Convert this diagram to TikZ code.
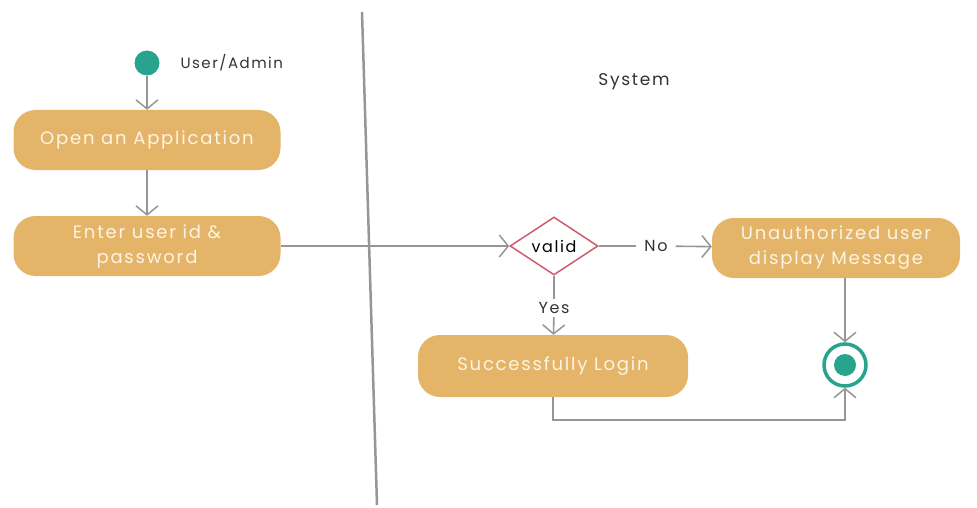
\documentclass[tikz,border=0pt]{standalone}
\usepackage{fontspec}
\setmainfont{Poppins}[LetterSpace=10]
\usepackage{tikz}
\usetikzlibrary{arrows.meta}
\usetikzlibrary{shapes.geometric}

\definecolor{boxfill}{RGB}{228,181,104}
\definecolor{boxtext}{RGB}{252,244,228}
\definecolor{nodeteal}{RGB}{40,163,142}
\definecolor{validred}{RGB}{206,92,112}
\definecolor{flowgray}{RGB}{150,150,150}

\tikzset{
  activity/.style={fill=boxfill, rounded corners=22pt, text=boxtext, align=center,
                   minimum height=60pt, inner sep=2pt, font=\fontsize{18}{25}\selectfont},
  plain/.style={text=black!80, font=\fontsize{15}{17}\selectfont},
}

\begin{document}
\begin{tikzpicture}[x=1pt,y=-1pt]
\useasboundingbox (0,0) rectangle (977,508);
% swimlane divider
\draw[flowgray, line width=2.5pt] (362,12) -- (377,505);
\node[plain, font=\fontsize{17}{19}\selectfont] (lanesys) at (634,82) {System};

\node[circle, fill=nodeteal, minimum size=25pt, inner sep=0pt] (start) at (147,63) {};
\node[plain, anchor=west] (laneuser) at (177,63) {User/Admin};
\node[activity, minimum width=267pt] (open) at (147,140) {Open an Application};
\node[activity, minimum width=267pt] (enter) at (147,246) {Enter user id \&\\password};
\node[diamond, draw=validred, line width=1.5pt, minimum width=88pt, minimum height=58pt,
      inner sep=0pt, font=\fontsize{16}{18}\selectfont] (valid) at (554,246) {valid};
\node[plain, inner xsep=8pt, font=\fontsize{16}{18}\selectfont] (no) at (656,246) {No};
\node[plain, font=\fontsize{16}{18}\selectfont] (yes) at (554,308) {Yes};
\node[activity, minimum width=248pt] (unauth) at (836,248) {Unauthorized user\\display Message};
\node[activity, minimum width=270pt, minimum height=62pt] (login) at (553,366) {Successfully Login};
\node[circle, draw=nodeteal, line width=3.5pt, minimum size=42pt, inner sep=0pt] (final) at (845,365) {};
\fill[nodeteal] (final) circle (11pt);

\begin{scope}[>={Straight Barb[length=9pt,width=22pt,line width=1.5pt]},
              every edge/.style={draw=flowgray, line width=1.6pt}]
    \path [->] (start) edge (open);
    \path [->] (open) edge (enter);
    \path [->] (enter) edge (valid);
    \path [-] (valid) edge (no);
    \path [->] (no) edge (unauth);
    \path [-] (valid) edge (yes);
    \path [->] (yes) edge (login);
    \path [->] (unauth.south -| final) edge (final);
    \draw [->, flowgray, line width=1.6pt] (login.south) -- ++(0,23) -| (final.south);
\end{scope}
\end{tikzpicture}
\end{document}
